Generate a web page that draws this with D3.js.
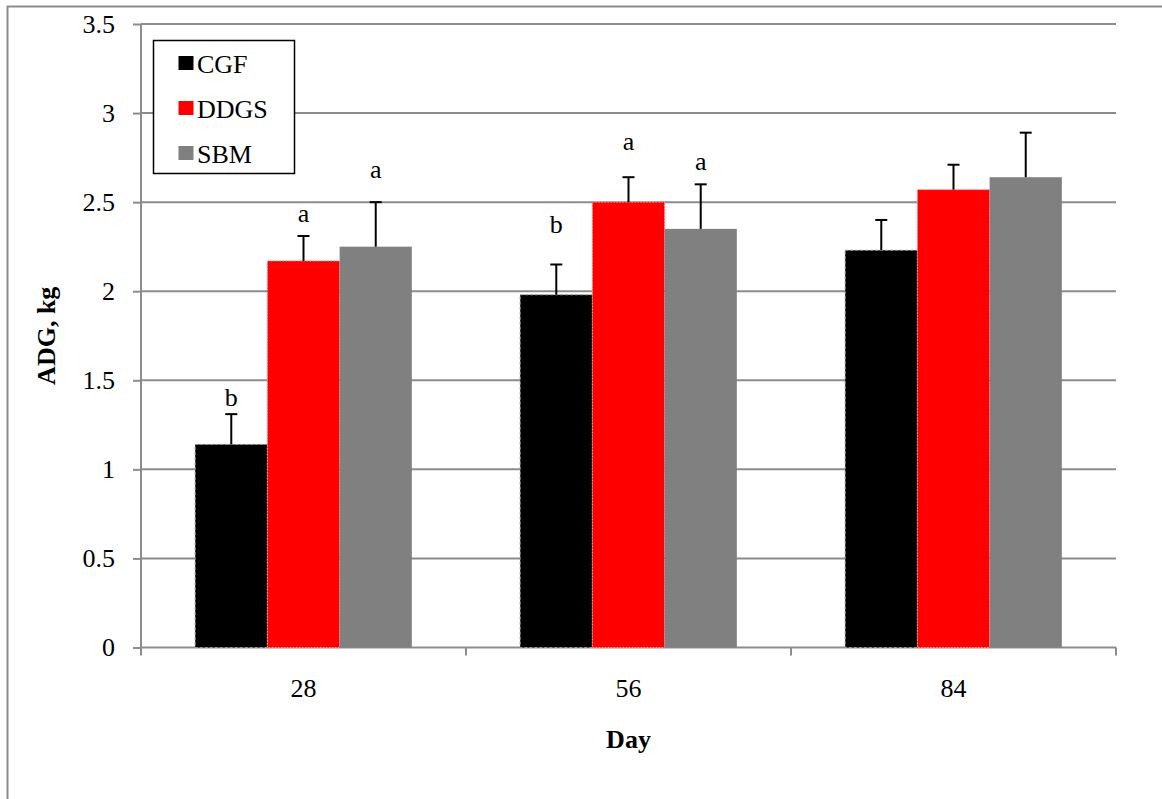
<!DOCTYPE html>
<html>
<head>
<meta charset="utf-8">
<script src="https://cdn.jsdelivr.net/npm/d3@7"></script>
<style>
  html, body { margin: 0; padding: 0; background: #fff; }
  svg text { font-family: 'Liberation Serif', 'Times New Roman', Times, 'DejaVu Serif', serif !important; fill: #000; }
</style>
</head>
<body>
<svg id="chart" width="1162" height="799"></svg>
<script>
// Average daily gain by day and protein source
const days = ["28", "56", "84"];
const treatments = ["CGF", "DDGS", "SBM"];
const colors = ["#000000", "#ff0000", "#808080"];
const cgf  = [1.14, 1.98, 2.23];
const ddgs = [2.17, 2.50, 2.57];
const sbm  = [2.25, 2.35, 2.64];
const cgfSE  = [0.17, 0.17, 0.17];
const ddgsSE = [0.14, 0.14, 0.14];
const sbmSE  = [0.25, 0.25, 0.25];
const cgfLetters  = ["b", "b", ""];
const ddgsLetters = ["a", "a", ""];
const sbmLetters  = ["a", "a", ""];
const yTicks = [0, 0.5, 1, 1.5, 2, 2.5, 3, 3.5];

const values = [cgf, ddgs, sbm];
const errors = [cgfSE, ddgsSE, sbmSE];
const letters = [cgfLetters, ddgsLetters, sbmLetters];

// pixel gap between each error cap and its letter (hand placed labels)
const letterGap = [[8, 31, 0], [14, 27, 0], [24, 14, 0]];

const rows = [];
days.forEach((d, i) => {
  treatments.forEach((t, j) => {
    rows.push({ day: d, trt: t, idx: j, v: values[j][i], se: errors[j][i],
                lab: letters[j][i], gap: letterGap[j][i] });
  });
});

const FS = 26;
const svg = d3.select("#chart");
const plotLeft = 141, plotRight = 1116, plotTop = 24, plotBottom = 647.5;

// outer chart frame (left and top edges visible)
svg.append("path")
  .attr("d", "M7.5,799 V6.5 H1162")
  .attr("fill", "none").attr("stroke", "#8c8c8c").attr("stroke-width", 2);

const x = d3.scaleBand().domain(days).range([plotLeft, plotRight]).paddingInner(0).paddingOuter(0);
const inner = d3.scaleBand().domain(treatments).range([0, x.bandwidth()]).paddingInner(0).paddingOuter(0.75);
const y = d3.scaleLinear().domain([0, 3.5]).range([plotBottom, plotTop]);

// horizontal gridlines
svg.append("g").selectAll("line")
  .data(yTicks.filter(t => t > 0))
  .join("line")
  .attr("x1", plotLeft).attr("x2", plotRight)
  .attr("y1", d => y(d)).attr("y2", d => y(d))
  .attr("stroke", "#8c8c8c").attr("stroke-width", 2);

// y axis
const yAxis = svg.append("g")
  .attr("transform", `translate(${plotLeft},0)`)
  .call(d3.axisLeft(y).tickValues(yTicks).tickSize(8).tickPadding(18).tickFormat(d3.format("")));
yAxis.select(".domain").attr("stroke", "#8c8c8c").attr("stroke-width", 2)
  .attr("d", `M0,${plotTop}V${plotBottom + 7}`);
yAxis.selectAll(".tick line").attr("stroke", "#8c8c8c").attr("stroke-width", 2);
yAxis.selectAll(".tick text").attr("font-size", FS);

// x axis
const xAxis = svg.append("g")
  .attr("transform", `translate(0,${plotBottom})`)
  .call(d3.axisBottom(x).tickSize(0));
xAxis.select(".domain").attr("stroke", "#8c8c8c").attr("stroke-width", 2)
  .attr("d", `M${plotLeft},0H${plotRight}`);
xAxis.selectAll(".tick text").attr("font-size", FS).attr("y", 49.5).attr("dy", 0);
// category separator ticks
svg.append("g").selectAll("line")
  .data([...days.map(d => x(d)), plotRight])
  .join("line")
  .attr("x1", d => d).attr("x2", d => d)
  .attr("y1", plotBottom).attr("y2", plotBottom + 8)
  .attr("stroke", "#8c8c8c").attr("stroke-width", 2);

// bars
const bars = svg.append("g");
bars.selectAll("rect")
  .data(rows)
  .join("rect")
  .attr("x", d => x(d.day) + inner(d.trt))
  .attr("y", d => y(d.v))
  .attr("width", inner.bandwidth())
  .attr("height", d => y(0) - y(d.v))
  .attr("fill", d => colors[d.idx])
  .attr("stroke", d => d.idx === 0 ? "#9a9a9a" : d.idx === 1 ? "#ff9a9a" : "none")
  .attr("stroke-dasharray", d => d.idx === 0 ? "3,2" : "1.5,1.5")
  .attr("stroke-width", 1);

// error bars (upper only)
const err = svg.append("g").attr("stroke", "#000").attr("stroke-width", 2);
rows.forEach(d => {
  const cx = x(d.day) + inner(d.trt) + inner.bandwidth() / 2;
  err.append("line").attr("x1", cx).attr("x2", cx)
    .attr("y1", y(d.v)).attr("y2", y(d.v + d.se));
  err.append("line").attr("x1", cx - 6).attr("x2", cx + 6)
    .attr("y1", y(d.v + d.se)).attr("y2", y(d.v + d.se));
});

// significance letters
svg.append("g").selectAll("text")
  .data(rows.filter(d => d.lab))
  .join("text")
  .attr("x", d => x(d.day) + inner(d.trt) + inner.bandwidth() / 2)
  .attr("y", d => y(d.v + d.se) - d.gap)
  .attr("text-anchor", "middle")
  .attr("font-size", FS)
  .text(d => d.lab);

// axis titles
svg.append("text")
  .attr("transform", `translate(55,${(plotTop + plotBottom) / 2 + 0}) rotate(-90)`)
  .attr("text-anchor", "middle")
  .attr("font-size", FS).attr("font-weight", "bold")
  .text("ADG, kg");
svg.append("text")
  .attr("x", (plotLeft + plotRight) / 2).attr("y", 748)
  .attr("text-anchor", "middle")
  .attr("font-size", FS).attr("font-weight", "bold")
  .text("Day");

// legend
const lg = svg.append("g");
lg.append("rect")
  .attr("x", 153.5).attr("y", 40.5).attr("width", 141).attr("height", 133)
  .attr("fill", "#fff").attr("stroke", "#000").attr("stroke-width", 1.5);
treatments.forEach((t, i) => {
  const cy = 63 + i * 45;
  lg.append("rect")
    .attr("x", 178.5).attr("y", cy - 7).attr("width", 15).attr("height", 14)
    .attr("fill", colors[i]);
  lg.append("text")
    .attr("x", 197).attr("y", cy + 10)
    .attr("font-size", FS)
    .text(t);
});
</script>
</body>
</html>
